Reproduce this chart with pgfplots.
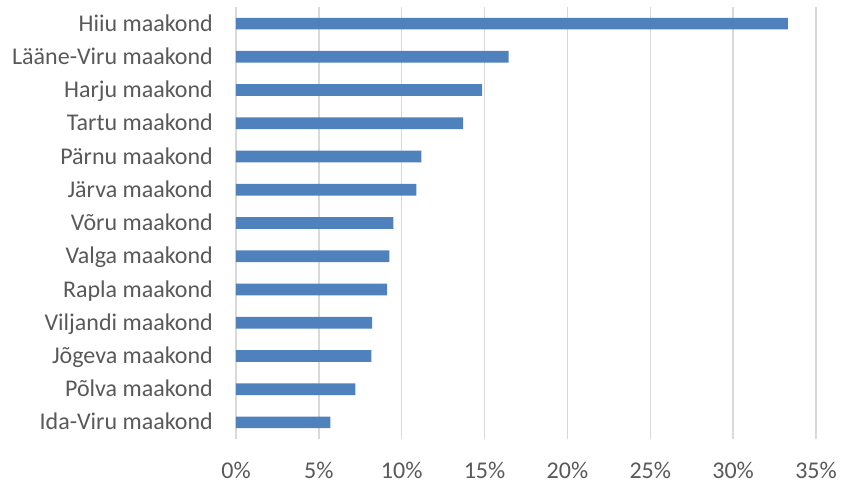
\documentclass[border=0pt]{standalone}
\usepackage{pgfplots}
\pgfplotsset{compat=1.18}
\usepackage{fontspec}
\setmainfont{Carlito}
\definecolor{barblue}{RGB}{79,129,189}
\definecolor{gridgray}{RGB}{217,217,217}
\definecolor{labelgray}{RGB}{89,89,89}
\begin{document}
\begin{tikzpicture}
\begin{axis}[
  scale only axis,
  width=580bp, height=432bp,
  xbar, bar width=11.7bp,
  xmin=0, xmax=35,
  ymin=-0.5, ymax=12.5,
  y dir=reverse,
  axis line style={draw=none},
  xtick={0,5,10,15,20,25,30,35},
  xticklabels={0\%,5\%,10\%,15\%,20\%,25\%,30\%,35\%},
  ytick={0,1,2,3,4,5,6,7,8,9,10,11,12},
  yticklabels={Hiiu maakond,Lääne-Viru maakond,Harju maakond,Tartu maakond,Pärnu maakond,Järva maakond,Võru maakond,Valga maakond,Rapla maakond,Viljandi maakond,Jõgeva maakond,Põlva maakond,Ida-Viru maakond},
  major tick length=0pt,
  xmajorgrids,
  major grid style={draw=gridgray, line width=1.5bp},
  tick label style={font=\fontsize{24bp}{28bp}\selectfont, text=labelgray, inner sep=0pt},
  xticklabel style={anchor=base, yshift=-39bp},
  yticklabel style={anchor=base east, xshift=-23bp, yshift=-7.6bp},
  clip=false,
]
\addplot[fill=barblue, draw=none] coordinates {
(33.3,0) (16.45,1) (14.86,2) (13.7,3) (11.19,4) (10.89,5) (9.5,6) (9.26,7) (9.12,8) (8.21,9) (8.17,10) (7.2,11) (5.69,12)
};
\end{axis}
\pgfresetboundingbox
\path (current axis.south west) ++(-236bp,-44bp) rectangle ++(843bp,483bp);
\end{tikzpicture}
\end{document}
